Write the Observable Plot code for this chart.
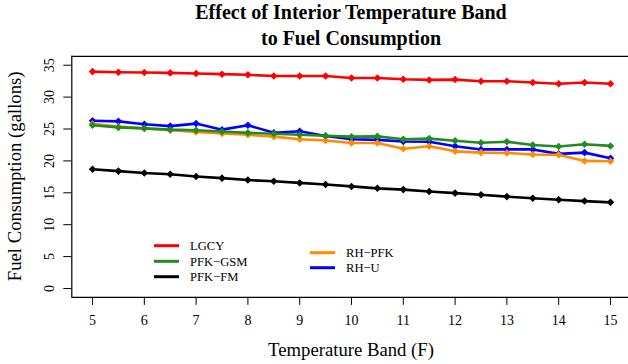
<!DOCTYPE html>
<html><head><meta charset="utf-8">
<script src="https://cdn.jsdelivr.net/npm/d3@7"></script>
<script src="https://cdn.jsdelivr.net/npm/@observablehq/plot@0.6"></script>
<style>body{margin:0;overflow:hidden;background:#fff}</style>
</head><body><div id="chart"></div>
<script>
const bands = [5,5.5,6,6.5,7,7.5,8,8.5,9,9.5,10,10.5,11,11.5,12,12.5,13,13.5,14,14.5,15];
const lgcy   = [34.0,33.9,33.85,33.8,33.7,33.6,33.5,33.3,33.3,33.3,33.0,33.0,32.8,32.7,32.75,32.5,32.5,32.3,32.1,32.3,32.1];
const pfkGsm = [25.6,25.25,25.1,24.9,24.8,24.6,24.4,24.25,24.1,23.95,23.8,23.85,23.4,23.5,23.15,22.85,23.0,22.5,22.25,22.6,22.35];
const pfkFm  = [18.7,18.4,18.1,17.9,17.55,17.3,17.0,16.8,16.55,16.3,16.0,15.7,15.5,15.2,14.95,14.7,14.4,14.15,13.9,13.7,13.5];
const rhPfk  = [25.8,25.4,25.1,24.8,24.55,24.3,24.1,23.8,23.4,23.2,22.8,22.8,21.9,22.3,21.5,21.3,21.25,21.0,20.95,20.0,19.95];
const rhU    = [26.3,26.2,25.75,25.45,25.85,24.9,25.6,24.4,24.65,23.9,23.4,23.3,23.05,23.0,22.3,21.8,21.8,21.8,21.1,21.3,20.4];
const seriesNames  = ["LGCY","PFK\u2212GSM","PFK\u2212FM","RH\u2212PFK","RH\u2212U"];
const seriesColors = ["#ff0000","#228b22","#000000","#ff8c00","#0000ff"];
const xTicks = [5,6,7,8,9,10,11,12,13,14,15];
const yTicks = [0,5,10,15,20,25,30,35];
const titleLines = ["Effect of Interior Temperature Band","to Fuel Consumption"];
const xLabel = "Temperature Band (F)";
const yLabel = "Fuel Consumption (gallons)";

const seriesValues = [lgcy, pfkGsm, pfkFm, rhPfk, rhU];
const drawOrder = [4, 3, 1, 2, 0];

const W = 628, H = 364, L = 71.3, T = 55.8, B = 296.9;
const font = "'Liberation Serif', 'Times New Roman', serif";

const seriesMarks = [];
for (const s of drawOrder) {
  const rows = bands.map((b, i) => ({band: b, value: seriesValues[s][i], series: seriesNames[s]}));
  seriesMarks.push(Plot.line(rows, {x: "band", y: "value", stroke: "series", strokeWidth: 2.6}));
  seriesMarks.push(Plot.dot(rows, {x: "band", y: "value", fill: "series", symbol: "diamond2", r: 3.4, stroke: "none"}));
}

const chart = Plot.plot({
  width: W, height: H,
  marginLeft: L, marginRight: 0, marginTop: T, marginBottom: H - B,
  style: {fontFamily: font, fontSize: "14px", background: "#fff", color: "#000"},
  x: {domain: [4.6, 15.4], range: [L, 630.7]},
  y: {domain: [-1.4, 36.4]},
  color: {domain: seriesNames, range: seriesColors},
  marks: [
    Plot.ruleY([36.4], {stroke: "#000", strokeWidth: 1.2}),
    Plot.ruleY([-1.4], {stroke: "#000", strokeWidth: 1.2}),
    Plot.ruleX([4.6], {stroke: "#000", strokeWidth: 1.2}),
    Plot.axisX({ticks: xTicks, tickSize: 8, tickPadding: 10, label: null, fontSize: 14}),
    Plot.axisY({ticks: yTicks, tickSize: 8, tickFormat: () => "", label: null}),
    Plot.text(yTicks, {y: d => d, text: d => String(d), frameAnchor: "left", rotate: -90, dx: -18.3, textAnchor: "middle", lineAnchor: "bottom", fontSize: 14}),
    ...seriesMarks
  ]
});

const svg = d3.select(chart);
const cx = (L + 630.7) / 2;
titleLines.forEach((t, i) => {
  svg.append("text").attr("x", cx).attr("y", 19.3 + i * 25.7)
    .attr("text-anchor", "middle").attr("font-weight", "bold")
    .attr("font-size", 20).attr("font-family", font).attr("fill", "#000").text(t);
});
svg.append("text").attr("x", cx).attr("y", 355.5).attr("text-anchor", "middle")
  .attr("font-size", 18.7).attr("font-family", font).attr("fill", "#000").text(xLabel);
svg.append("text").attr("transform", `translate(21,${(T + B) / 2}) rotate(-90)`)
  .attr("text-anchor", "middle").attr("font-size", 18.7).attr("font-family", font)
  .attr("fill", "#000").text(yLabel);

// legend
const legendPos = [
  {x: 154, y: 245.7}, {x: 154, y: 261.3}, {x: 154, y: 276.7},
  {x: 310, y: 252.7}, {x: 310, y: 267.7}
];
seriesNames.forEach((name, i) => {
  const p = legendPos[i];
  svg.append("line").attr("x1", p.x).attr("x2", p.x + 25).attr("y1", p.y).attr("y2", p.y)
    .attr("stroke", seriesColors[i]).attr("stroke-width", 3);
  svg.append("text").attr("x", p.x + 36).attr("y", p.y + 4.4).attr("text-anchor", "start")
    .attr("font-size", 12.6).attr("font-family", font).attr("fill", "#000").text(name);
});

document.getElementById("chart").appendChild(chart);
</script>
</body></html>
